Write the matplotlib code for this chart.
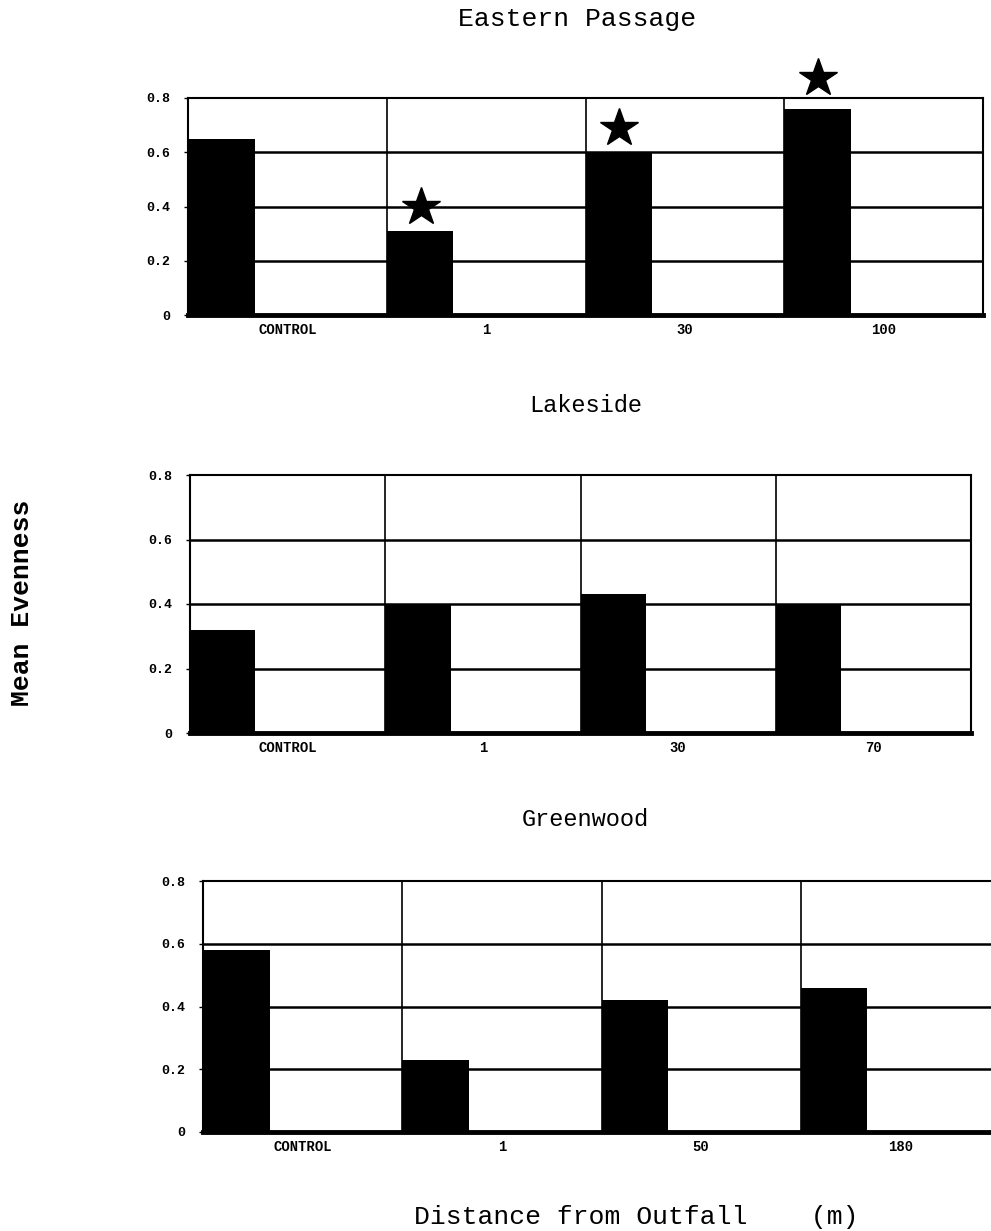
import matplotlib
matplotlib.use("Agg")
import matplotlib.pyplot as plt
import numpy as np

# ---- data ----
titles = ["Eastern Passage", "Lakeside", "Greenwood"]
categories_ep = ["CONTROL", "1", "30", "100"]
categories_lk = ["CONTROL", "1", "30", "70"]
categories_gw = ["CONTROL", "1", "50", "180"]
evenness_ep = [0.65, 0.31, 0.60, 0.76]
evenness_lk = [0.32, 0.40, 0.43, 0.40]
evenness_gw = [0.58, 0.23, 0.42, 0.46]
star_y_ep = [np.nan, 0.40, 0.69, 0.875]
yticks = [0, 0.2, 0.4, 0.6, 0.8]
ytick_labels = ["0", "0.2", "0.4", "0.6", "0.8"]

W, H = 991, 1231
fig = plt.figure(figsize=(W / 100, H / 100), dpi=100)
mono = ["Liberation Mono", "DejaVu Sans Mono"]

def ax_at(left, right, top, bottom):
    return fig.add_axes([left / W, 1 - bottom / H, (right - left) / W, (bottom - top) / H])

panels = [
    (ax_at(188, 983, 98, 315), categories_ep, evenness_ep, star_y_ep, (577, 19, 19)),
    (ax_at(190, 971, 475, 733), categories_lk, evenness_lk, None, (586, 405, 17)),
    (ax_at(203, 1000, 881, 1132), categories_gw, evenness_gw, None, (585, 820, 17)),
]

for (ax, cats, vals, stars, (tx, ty, tfs)), title in zip(panels, titles):
    x = np.arange(len(cats))
    ax.set_xlim(0, len(cats))
    ax.set_ylim(0, 0.8)
    for yv in [0.2, 0.4, 0.6]:
        ax.axhline(yv, color="black", lw=1.8, zorder=1)
    for xv in x[1:]:
        ax.axvline(xv, color="black", lw=1.2, zorder=1)
    ax.bar(x, vals, width=0.335, align="edge", color="black", zorder=2)
    if stars is not None:
        ax.plot(x + 0.17, stars, linestyle="none", marker="*", ms=29,
                color="black", clip_on=False, zorder=3)
    ax.set_xticks(x + 0.5)
    ax.set_xticklabels(cats, family=mono, fontweight="bold", fontsize=10)
    ax.set_yticks(yticks)
    ax.set_yticklabels(ytick_labels, family=mono, fontweight="bold", fontsize=9.5)
    ax.tick_params(axis="x", length=0, pad=6)
    ax.tick_params(axis="y", length=3, width=1, pad=10)
    for s in ["top", "right", "left"]:
        ax.spines[s].set_linewidth(1.5)
    ax.spines["bottom"].set_linewidth(3.5)
    fig.text(tx / W, 1 - ty / H, title, ha="center", va="center",
             family=mono, fontsize=tfs)

fig.text(22 / W, 1 - 603 / H, "Mean Evenness", rotation=90, ha="center", va="center",
         family=mono, fontsize=19, fontweight="bold")
fig.text(636 / W, 1 - 1217 / H, "Distance from Outfall    (m)", ha="center", va="center",
         family=mono, fontsize=19)

fig.savefig("out.png", dpi=100)
